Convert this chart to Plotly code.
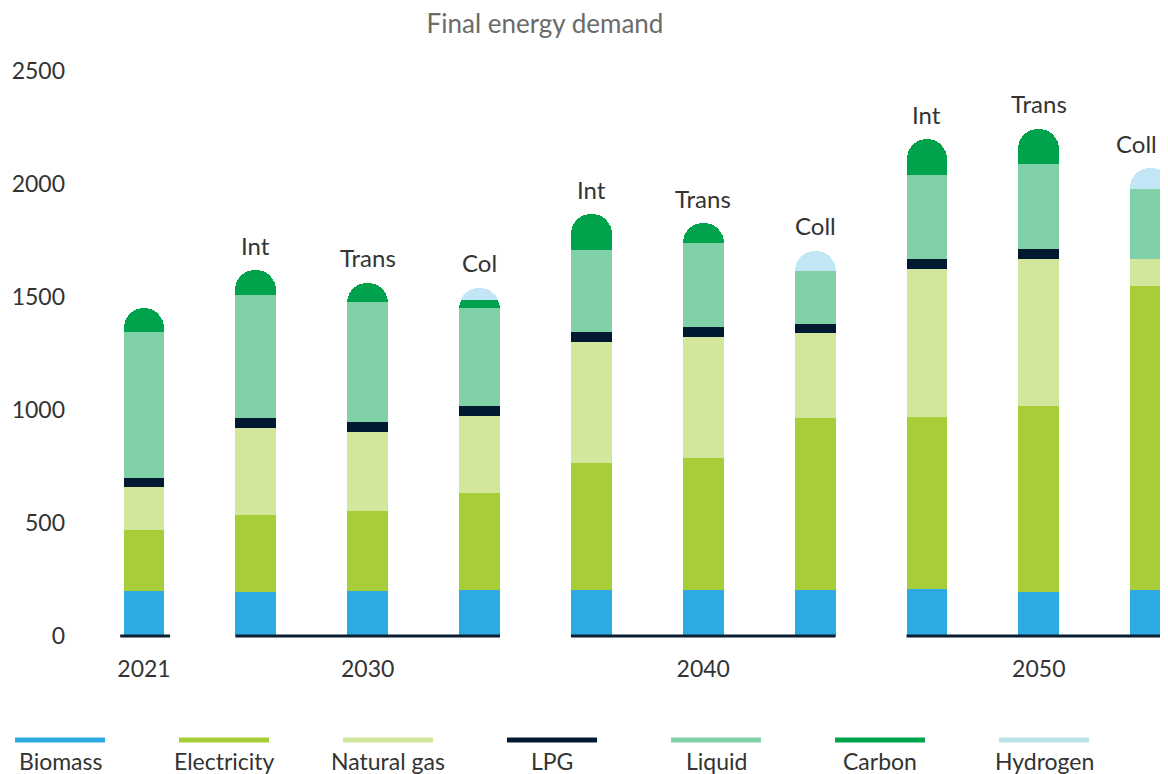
import plotly.graph_objects as go

# ---------------- data ----------------
categories = ["2021", "2030 Int", "2030 Trans", "2030 Col", "2040 Int",
              "2040 Trans", "2040 Coll", "2050 Int", "2050 Trans", "2050 Coll"]
bar_labels = ["", "Int", "Trans", "Col", "Int", "Trans", "Coll", "Int", "Trans", "Coll"]
year_tick_cats = ["2021", "2030 Trans", "2040 Trans", "2050 Trans"]
year_tick_text = ["2021", "2030", "2040", "2050"]
groups = [["2021"], ["2030 Int", "2030 Trans", "2030 Col"],
          ["2040 Int", "2040 Trans", "2040 Coll"], ["2050 Int", "2050 Trans", "2050 Coll"]]

biomass = [200, 195, 200, 205, 205, 205, 205, 210, 195, 205]
electricity = [270, 340, 354, 429, 561, 584, 761, 761, 823, 1345]
natural_gas = [190, 385, 350, 340, 536, 535, 376, 655, 650, 119]
lpg = [40, 45, 44, 45, 44, 44, 40, 40, 44, 0]
liquid = [645, 545, 528, 432, 362, 369, 234, 373, 375, 311]
carbon = [107, 108, 88, 37, 159, 90, 0, 158, 158, 0]
hydrogen = [0, 0, 0, 53, 0, 0, 89, 0, 0, 90]

series_names = ["Biomass", "Electricity", "Natural gas", "LPG", "Liquid", "Carbon", "Hydrogen"]
series_values = [biomass, electricity, natural_gas, lpg, liquid, carbon, hydrogen]
bar_colors = ["#2EAAE2", "#A7CE39", "#D3E79C", "#021A31", "#81D1A8", "#00A34C", "#C2E6F6"]
legend_colors = ["#2EAAE2", "#A7CE39", "#D3E79C", "#021A31", "#81D1A8", "#00A34C", "#B9E3E8"]

# ---------------- layout constants ----------------
# the page body has an 8px default margin: size the figure to fit the window
OFF = 8
W, H = 1168 - OFF, 774 - OFF
ML, MR, MT, MB = 90 - OFF, 0, 60 - OFF, 124
PW, PH = W - ML - MR, H - MT - MB
BAR_W = 0.366
FONT = "Lato"
TXT = "#333333"

def px_to_paper_x(px):  # px measured in window pixels
    return (px - OFF - ML) / PW

def px_to_paper_y(py):
    return (H - MB - (py - OFF)) / PH

fig = go.Figure()
for name, vals, col in zip(series_names, series_values, bar_colors):
    fig.add_trace(go.Bar(
        x=categories, y=vals, name=name, marker=dict(color=col, line=dict(width=0)),
        width=BAR_W, showlegend=False, hoverinfo="x+y+name"))

totals = [sum(v[i] for v in series_values) for i in range(len(categories))]

# labels above bars (the last one is nudged left so it stays inside the page)
for i, (cat, lab, tot) in enumerate(zip(categories, bar_labels, totals)):
    if lab:
        fig.add_annotation(x=cat, y=tot, text=lab, showarrow=False, xref="x", yref="y",
                           yanchor="middle", yshift=25,
                           xshift=-14 if i == len(categories) - 1 else 0,
                           font=dict(family=FONT, size=24, color=TXT))

# baseline per group
cat_index = {c: i for i, c in enumerate(categories)}
for g in groups:
    x0 = cat_index[g[0]] - BAR_W / 2 - (0.03 if len(g) == 1 else 0)
    x1 = cat_index[g[-1]] + BAR_W / 2 + (0.05 if len(g) == 1 else 0)
    fig.add_shape(type="line", xref="x", yref="y", x0=x0, x1=x1, y0=0, y1=0,
                  line=dict(color="#0B1F33", width=3), layer="above")

# custom legend: swatch above label
for k, (name, col) in enumerate(zip(series_names, legend_colors)):
    cx = 60 + 164 * k
    fig.add_shape(type="line", xref="paper", yref="paper",
                  x0=px_to_paper_x(cx - 45), x1=px_to_paper_x(cx + 45),
                  y0=px_to_paper_y(740), y1=px_to_paper_y(740),
                  line=dict(color=col, width=5))
    fig.add_annotation(xref="paper", yref="paper", x=px_to_paper_x(cx), y=px_to_paper_y(761),
                       text=name, showarrow=False, xanchor="center", yanchor="middle",
                       font=dict(family=FONT, size=23, color=TXT))

fig.update_layout(
    width=W, height=H,
    margin=dict(l=ML, r=MR, t=MT, b=MB),
    barmode="stack", bargap=0, barcornerradius="50%",
    plot_bgcolor="white", paper_bgcolor="white",
    font=dict(family=FONT, size=23, color=TXT),
    title=dict(text="Final energy demand", x=(545 - OFF) / W,
               xanchor="center", y=1 - (24 - OFF) / H, yanchor="middle",
               font=dict(family=FONT, size=26, color="#6B6B6B")),
    xaxis=dict(type="category", categoryorder="array", categoryarray=categories,
               range=[-0.483, 9.155], showgrid=False, zeroline=False, showline=False,
               tickmode="array", tickvals=year_tick_cats, ticktext=year_tick_text,
               ticks="", ticklabelstandoff=3, tickfont=dict(family=FONT, size=23, color=TXT)),
    yaxis=dict(range=[-61.9, 2548.7], showgrid=False, zeroline=False, showline=False,
               tickmode="array", tickvals=[0, 500, 1000, 1500, 2000, 2500],
               ticks="", ticklabelstandoff=24, tickfont=dict(family=FONT, size=23, color=TXT)),
)

fig.write_html("out.html")
